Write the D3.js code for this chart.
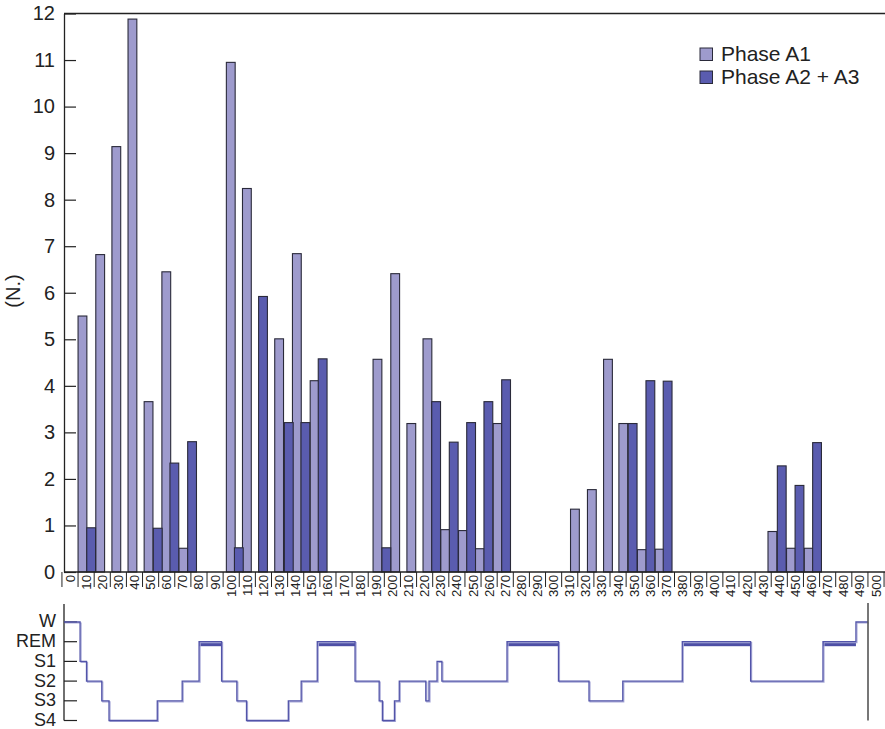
<!DOCTYPE html>
<html>
<head>
<meta charset="utf-8">
<script src="https://cdn.jsdelivr.net/npm/d3@7"></script>
<style>
  body { margin: 0; background: #fff; }
  svg { display: block; font-family: "Liberation Sans", Arial, Helvetica, sans-serif; }
</style>
</head>
<body>
<svg id="chart" width="885" height="729"></svg>
<script>
// ---- data ----
const timeTicks = d3.range(0, 501, 10);          // minutes, bottom axis labels
const countTicks = d3.range(0, 13, 1);           // (N.) axis
const seriesNames = ["Phase A1", "Phase A2 + A3"];

// Phase A1 events: start minute of each bin and count
const a1Start = [5, 16, 26, 36, 46, 57, 67.5, 97, 107, 127, 138, 149, 188, 199, 209, 219, 230, 241, 251.5, 262.5,
                 310.5, 321, 331, 340.5, 352, 363, 433, 444.5, 455.5];
const a1Count = [5.5, 6.82, 9.14, 11.88, 3.66, 6.45, 0.51, 10.95, 8.24, 5.01, 6.84, 4.11, 4.57, 6.41, 3.19, 5.01, 0.91, 0.89, 0.5, 3.19,
                 1.35, 1.77, 4.57, 3.19, 0.48, 0.49, 0.87, 0.51, 0.51];

// Phase A2 + A3 events: start minute of each bin and count
const a23Start = [10.4, 51.7, 62, 73, 102, 117, 133, 143.3, 154, 193.5, 224.4, 235.3, 246.1, 256.8, 267.8,
                  346.3, 357.3, 368, 438.8, 449.8, 460.7];
const a23Count = [0.95, 0.94, 2.34, 2.8, 0.52, 5.92, 3.21, 3.21, 4.58, 0.52, 3.66, 2.79, 3.21, 3.66, 4.13,
                  3.19, 4.11, 4.1, 2.28, 1.86, 2.78];

// Hypnogram: sleep stage and the minute at which it begins
const stages = ["W", "REM", "S1", "S2", "S3", "S4"];
const hypStart = [0, 10, 14, 23.5, 28, 58, 73.5, 84, 98, 107.5, 113.5, 139.5, 147.5, 157.5, 181, 196, 198, 205.5, 208.5,
                  225, 227, 232, 235, 275.5, 307.5, 326.5, 347.5, 384.5, 427, 472, 492.5];
const hypStage = ["W", "S1", "S2", "S3", "S4", "S3", "S2", "REM", "S2", "S3", "S4", "S3", "S2", "REM", "S2", "S3", "S4", "S3", "S2",
                  "S3", "S2", "S1", "S2", "REM", "S2", "S3", "S2", "REM", "S2", "REM", "W"];
const hypEnd = 500;

// ---- styling ----
const colA1 = "#9e9bcd";
const colA23 = "#5a5caf";
const colHyp = "#5254a9";
const binWidth = 5.46;   // minutes per bar

const svg = d3.select("#chart");

// ---- scales ----
const x = d3.scaleLinear().domain([0, 500]).range([70, 876]);
const y = d3.scaleLinear().domain([0, 12]).range([572, 13.5]);
const hx = d3.scaleLinear().domain([0, 500]).range([64, 868]);
const hy = d3.scalePoint().domain(stages).range([622, 720.5]);

const axisLeft = 64;

// ---- top frame ----
svg.append("line").attr("x1", axisLeft).attr("x2", 885).attr("y1", y(12)).attr("y2", y(12))
  .attr("stroke", "#222").attr("stroke-width", 1.3);

// y axis with inward ticks
const yAxis = d3.axisLeft(y).tickValues(countTicks).tickSizeInner(-12).tickSizeOuter(0).tickPadding(9);
const gy = svg.append("g").attr("transform", `translate(${axisLeft},0)`).call(yAxis);
gy.select(".domain").attr("stroke", "#222").attr("stroke-width", 1.3);
gy.selectAll(".tick line").attr("stroke", "#222").attr("stroke-width", 1.2);
gy.selectAll(".tick text").attr("font-size", 20).attr("fill", "#222").attr("font-family", "Liberation Sans, Arial, sans-serif");

// y axis title
svg.append("text").attr("transform", "translate(20,291) rotate(-90)")
  .attr("text-anchor", "middle").attr("font-size", 20).attr("fill", "#222").text("(N.)");

// ---- bars ----
const a1Data = a1Start.map((s, i) => ({ s, v: a1Count[i] }));
const a23Data = a23Start.map((s, i) => ({ s, v: a23Count[i] }));

function drawBars(data, fill) {
  svg.append("g").selectAll("rect").data(data).join("rect")
    .attr("x", d => x(d.s))
    .attr("y", d => y(d.v))
    .attr("width", d => x(d.s + binWidth) - x(d.s))
    .attr("height", d => y(0) - y(d.v))
    .attr("fill", fill)
    .attr("stroke", "#2a2a3a")
    .attr("stroke-width", 1.1);
}
drawBars(a1Data, colA1);
drawBars(a23Data, colA23);

// ---- bottom axis: boxed, rotated minute labels ----
svg.append("line").attr("x1", axisLeft).attr("x2", 885).attr("y1", y(0)).attr("y2", y(0))
  .attr("stroke", "#222").attr("stroke-width", 1.3);
const gx = svg.append("g");
gx.selectAll("line.sep").data(timeTicks.concat([510])).join("line").attr("class", "sep")
  .attr("x1", d => x(d - 5)).attr("x2", d => x(d - 5))
  .attr("y1", y(0)).attr("y2", y(0) + 15)
  .attr("stroke", "#222").attr("stroke-width", 1);
gx.selectAll("text").data(timeTicks).join("text")
  .attr("transform", d => `translate(${x(d) + 4.5},${y(0) + 3}) rotate(-90)`)
  .attr("text-anchor", "end")
  .attr("font-size", 13.2).attr("fill", "#222")
  .text(d => d);

// ---- legend ----
const legend = svg.append("g").attr("transform", "translate(700,48)");
seriesNames.forEach((name, i) => {
  legend.append("rect").attr("x", 0).attr("y", i * 23).attr("width", 12.5).attr("height", 12.5)
    .attr("fill", i === 0 ? colA1 : colA23).attr("stroke", "#2a2a3a").attr("stroke-width", 1);
  legend.append("text").attr("x", 21).attr("y", i * 23 + 12.5)
    .attr("font-size", 21).attr("fill", "#222").text(name);
});

// ---- hypnogram ----
const gh = svg.append("g");
gh.append("line").attr("x1", axisLeft).attr("x2", axisLeft).attr("y1", 604).attr("y2", hy("S4"))
  .attr("stroke", "#222").attr("stroke-width", 1.3);
gh.selectAll("line.tk").data(stages).join("line").attr("class", "tk")
  .attr("x1", axisLeft).attr("x2", axisLeft + 13)
  .attr("y1", d => hy(d)).attr("y2", d => hy(d))
  .attr("stroke", "#222").attr("stroke-width", 1.2);
gh.selectAll("text").data(stages).join("text")
  .attr("x", axisLeft - 8).attr("y", d => hy(d)).attr("dy", "0.3em")
  .attr("text-anchor", "end").attr("font-size", 18).attr("fill", "#222").text(d => d);

const segs = hypStart.map((s, i) => ({ s, e: i < hypStart.length - 1 ? hypStart[i + 1] : hypEnd, st: hypStage[i] }));

// REM periods as thick bands
gh.selectAll("rect.rem").data(segs.filter(d => d.st === "REM")).join("rect").attr("class", "rem")
  .attr("x", d => hx(d.s)).attr("y", hy("REM"))
  .attr("width", d => hx(d.e) - hx(d.s)).attr("height", 4.5)
  .attr("fill", "#4d4fa5");

// stage step line
const pts = [];
segs.forEach(d => { pts.push([hx(d.s), hy(d.st)]); pts.push([hx(d.e), hy(d.st)]); });
gh.append("path").attr("d", d3.line()(pts))
  .attr("fill", "none").attr("stroke", "#a9aad8").attr("stroke-width", 1.2)
  .attr("transform", "translate(1,1)");
gh.append("path").attr("d", d3.line()(pts))
  .attr("fill", "none").attr("stroke", colHyp).attr("stroke-width", 1.3);

// end of recording marker
gh.append("line").attr("x1", hx(hypEnd)).attr("x2", hx(hypEnd)).attr("y1", 603).attr("y2", hy("S4"))
  .attr("stroke", "#555").attr("stroke-width", 1.6);
</script>
</body>
</html>
